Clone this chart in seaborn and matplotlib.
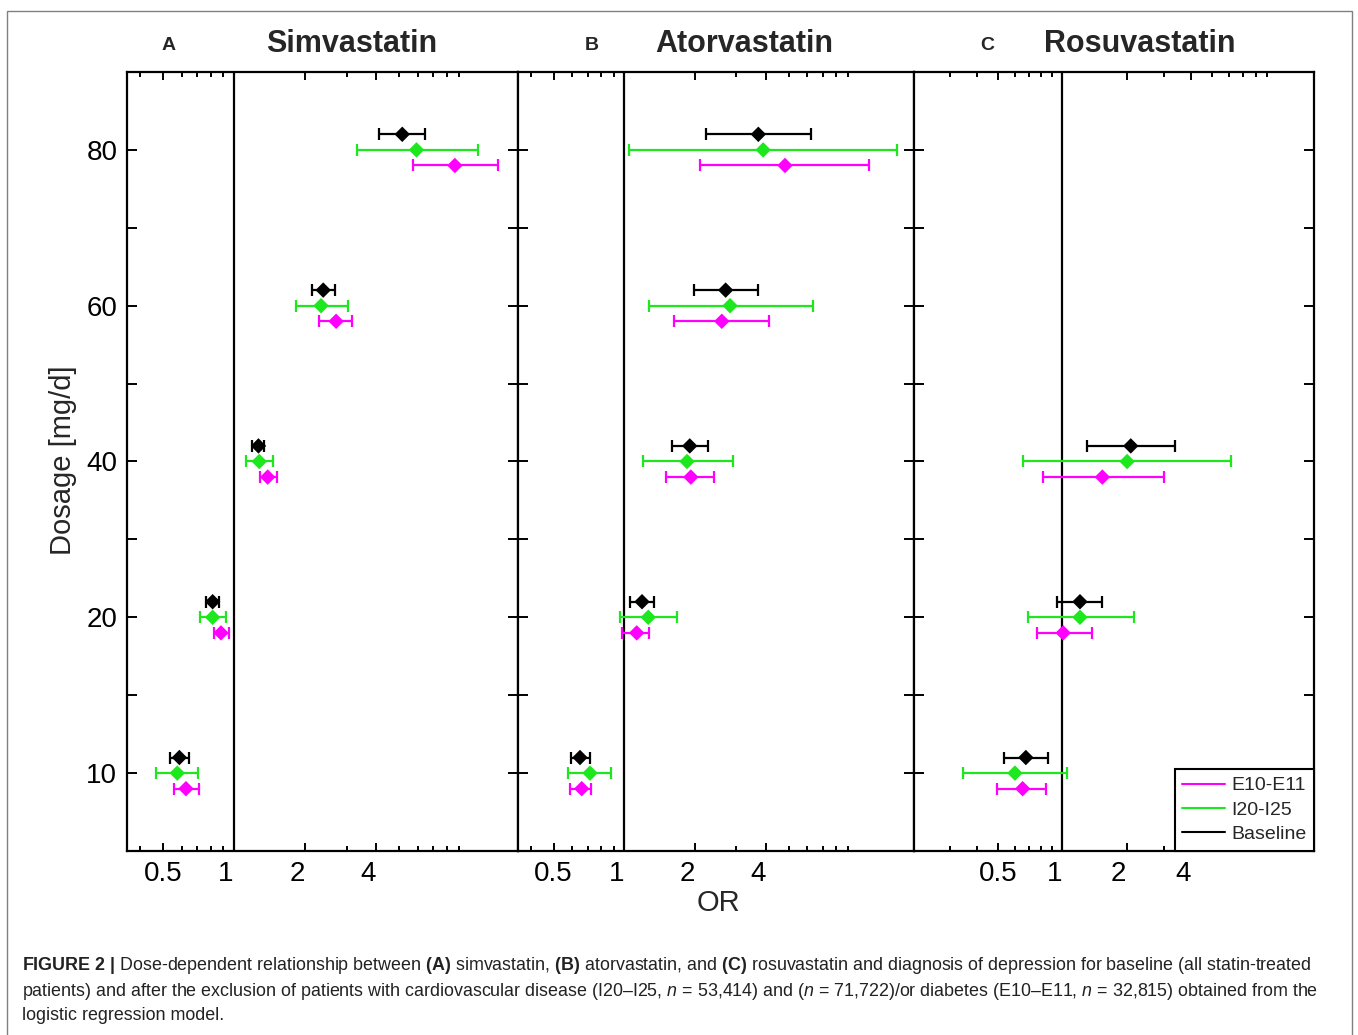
import numpy as np
import pandas as pd
import matplotlib
matplotlib.use("Agg")
import matplotlib.pyplot as plt
import matplotlib.transforms as mtransforms
import seaborn as sns
from matplotlib.patches import Rectangle
from matplotlib.lines import Line2D
from matplotlib.ticker import FixedLocator, NullFormatter

sns.set_style("ticks")
plt.rcParams["font.family"] = ["Liberation Sans", "DejaVu Sans"]
plt.rcParams["mathtext.fontset"] = "custom"
plt.rcParams["mathtext.rm"] = "Liberation Sans"
plt.rcParams["mathtext.it"] = "Liberation Sans:italic"
plt.rcParams["mathtext.bf"] = "Liberation Sans:bold"

doses = [10, 20, 40, 60, 80]
rosu_doses = [10, 20, 40]
groups = ["E10-E11", "I20-I25", "Baseline"]
colors = {"E10-E11": "#ff00ff", "I20-I25": "#1de81d", "Baseline": "#000000"}
offsets = {"E10-E11": -0.1, "I20-I25": 0.0, "Baseline": 0.1}

# simvastatin: odds ratio, lower / upper CI
simva_base = [0.587, 0.812, 1.27, 2.39, 5.17]
simva_base_lo = [0.536, 0.763, 1.195, 2.15, 4.10]
simva_base_hi = [0.647, 0.864, 1.34, 2.68, 6.43]
simva_cvd = [0.575, 0.812, 1.28, 2.34, 5.94]
simva_cvd_lo = [0.467, 0.718, 1.12, 1.83, 3.31]
simva_cvd_hi = [0.702, 0.925, 1.46, 3.05, 10.8]
simva_diab = [0.626, 0.881, 1.39, 2.71, 8.64]
simva_diab_lo = [0.557, 0.823, 1.29, 2.30, 5.75]
simva_diab_hi = [0.711, 0.955, 1.52, 3.17, 13.1]

# atorvastatin
atorva_base = [0.648, 1.19, 1.90, 2.70, 3.72]
atorva_base_lo = [0.593, 1.06, 1.59, 1.98, 2.22]
atorva_base_hi = [0.715, 1.34, 2.28, 3.70, 6.23]
atorva_cvd = [0.715, 1.265, 1.85, 2.82, 3.90]
atorva_cvd_lo = [0.574, 0.959, 1.20, 1.27, 1.05]
atorva_cvd_hi = [0.875, 1.68, 2.91, 6.37, 14.5]
atorva_diab = [0.659, 1.13, 1.92, 2.60, 4.83]
atorva_diab_lo = [0.587, 0.98, 1.51, 1.63, 2.10]
atorva_diab_hi = [0.722, 1.28, 2.41, 4.14, 11.0]

# rosuvastatin (10-40 mg only)
rosu_base = [0.676, 1.21, 2.09]
rosu_base_lo = [0.536, 0.948, 1.30]
rosu_base_hi = [0.86, 1.54, 3.36]
rosu_cvd = [0.601, 1.21, 2.01]
rosu_cvd_lo = [0.345, 0.689, 0.657]
rosu_cvd_hi = [1.05, 2.16, 6.12]
rosu_diab = [0.653, 1.01, 1.54]
rosu_diab_lo = [0.497, 0.759, 0.81]
rosu_diab_hi = [0.839, 1.37, 2.99]


def make_df(dose_list, series):
    rows = []
    for g, (orv, lo, hi) in series.items():
        for d, o, l, h in zip(dose_list, orv, lo, hi):
            rows.append({"group": g, "dose": d, "OR": o, "lo": l, "hi": h})
    df = pd.DataFrame(rows)
    df["pos"] = df["dose"].map({d: i + 1 for i, d in enumerate(doses)}) + df["group"].map(offsets)
    return df


simva_df = make_df(doses, {
    "E10-E11": (simva_diab, simva_diab_lo, simva_diab_hi),
    "I20-I25": (simva_cvd, simva_cvd_lo, simva_cvd_hi),
    "Baseline": (simva_base, simva_base_lo, simva_base_hi),
})
atorva_df = make_df(doses, {
    "E10-E11": (atorva_diab, atorva_diab_lo, atorva_diab_hi),
    "I20-I25": (atorva_cvd, atorva_cvd_lo, atorva_cvd_hi),
    "Baseline": (atorva_base, atorva_base_lo, atorva_base_hi),
})
rosu_df = make_df(rosu_doses, {
    "E10-E11": (rosu_diab, rosu_diab_lo, rosu_diab_hi),
    "I20-I25": (rosu_cvd, rosu_cvd_lo, rosu_cvd_hi),
    "Baseline": (rosu_base, rosu_base_lo, rosu_base_hi),
})

W, H = 1358, 1035
fig = plt.figure(figsize=(W / 100, H / 100), dpi=100)

panels = [
    (127, 391, simva_df, (0.352, 16.0), [0.4, 0.6, 0.7, 0.8, 0.9, 3, 5, 6, 7, 8, 9]),
    (518, 396, atorva_df, (0.353, 17.1), [0.4, 0.6, 0.7, 0.8, 0.9, 3, 5, 6, 7, 8, 9]),
    (914, 400, rosu_df, (0.203, 15.0), [0.3, 0.4, 0.6, 0.7, 0.8, 0.9, 3, 5, 6, 7, 8, 9]),
]

# tick labels in the original sit a little left of their ticks
shift = mtransforms.ScaledTranslation(-8 / 100, 0, fig.dpi_scale_trans)

axes = []
for i, (left, width, df, xlim, minors) in enumerate(panels):
    ax = fig.add_axes([left / W, 1 - 851 / H, width / W, 779 / H])
    for g in groups:
        sub = df[df["group"] == g]
        ax.errorbar(sub["OR"], sub["pos"],
                    xerr=[sub["OR"] - sub["lo"], sub["hi"] - sub["OR"]],
                    fmt="none", ecolor=colors[g], elinewidth=1.6,
                    capsize=4.5, capthick=1.6, zorder=2)
    sns.scatterplot(data=df, x="OR", y="pos", hue="group", palette=colors,
                    marker="D", s=62, linewidth=0, ax=ax, legend=False, zorder=3)
    ax.axvline(1, color="black", lw=1.6, zorder=1)
    ax.set_xscale("log")
    ax.set_xlim(*xlim)
    ax.set_ylim(0.5, 5.5)
    ax.xaxis.set_major_locator(FixedLocator([0.5, 1, 2, 4]))
    ax.set_xticklabels(["0.5", "1", "2", "4"])
    ax.xaxis.set_minor_locator(FixedLocator(minors))
    ax.xaxis.set_minor_formatter(NullFormatter())
    ax.yaxis.set_major_locator(FixedLocator([1, 2, 3, 4, 5]))
    ax.set_yticklabels([str(d) for d in doses])
    ax.yaxis.set_minor_locator(FixedLocator([1.5, 2.5, 3.5, 4.5]))
    ax.tick_params(which="both", direction="in", top=True, right=True,
                   width=1.4, color="black", labelsize=20, labelcolor="black")
    ax.tick_params(axis="x", which="major", length=6, pad=7)
    ax.tick_params(axis="x", which="minor", length=3.5)
    ax.tick_params(axis="y", which="both", length=7, pad=7)
    if i > 0:
        ax.tick_params(axis="y", labelleft=False)
    for lbl in ax.get_xticklabels()[1:]:
        lbl.set_transform(lbl.get_transform() + shift)
    ax.set_xlabel("")
    ax.set_ylabel("")
    for sp in ax.spines.values():
        sp.set_linewidth(1.6)
        sp.set_color("black")
    axes.append(ax)

handles = [Line2D([], [], color=colors[g], lw=1.5) for g in groups]
leg = axes[2].legend(handles, groups, loc="lower right", borderaxespad=0,
                     fontsize=14, handlelength=2.2, handletextpad=0.3,
                     labelspacing=0.35, borderpad=0.4, fancybox=False,
                     framealpha=1, edgecolor="black")
leg.get_frame().set_linewidth(1.5)

# panel letters and titles
for x, txt in [(169, "A"), (592, "B"), (987, "C")]:
    fig.text(x / W, 1 - 45 / H, txt, fontsize=14, fontweight="bold", ha="center", va="center")
for x, txt in [(352, "Simvastatin"), (744, "Atorvastatin"), (1140, "Rosuvastatin")]:
    fig.text(x / W, 1 - 44 / H, txt, fontsize=22, fontweight="bold", ha="center", va="center")

fig.text(63 / W, 1 - 460 / H, "Dosage [mg/d]", fontsize=21, rotation=90, ha="center", va="center")
fig.text(718 / W, 1 - 903 / H, "OR", fontsize=21, ha="center", va="center")

# caption
cap1 = (r"$\mathbf{FIGURE\ 2\ |}$ Dose-dependent relationship between $\mathbf{(A)}$ simvastatin, "
        r"$\mathbf{(B)}$ atorvastatin, and $\mathbf{(C)}$ rosuvastatin and diagnosis of depression "
        r"for baseline (all statin-treated")
cap2 = (r"patients) and after the exclusion of patients with cardiovascular disease (I20–I25, "
        r"$n$ = 53,414) and ($n$ = 71,722)/or diabetes (E10–E11, $n$ = 32,815) obtained from the")
cap3 = "logistic regression model."
for y, txt in [(966, cap1), (991, cap2), (1016, cap3)]:
    fig.text(22 / W, 1 - y / H, txt, fontsize=12.9, ha="left", va="center", color="#222222")

fig.patches.append(Rectangle((7 / W, -0.01), (1352 - 7) / W, 1 - 11 / H + 0.01,
                             transform=fig.transFigure, fill=False,
                             edgecolor="#808080", lw=1))

plt.savefig("out.png", dpi=100)
plt.close()
